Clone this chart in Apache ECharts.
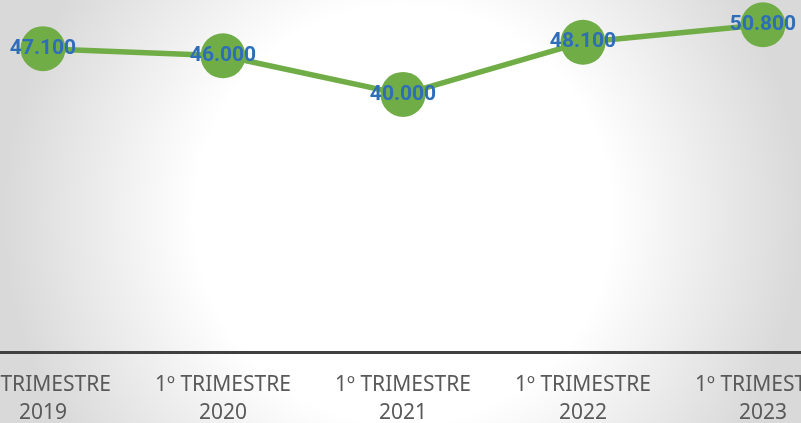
<!DOCTYPE html>
<html><head><meta charset="utf-8">
<script src="https://cdn.jsdelivr.net/npm/echarts@6/dist/echarts.min.js"></script>
<style>html,body{margin:0;padding:0;}#c{width:801px;height:423px;}</style>
</head><body><div id="c"></div>
<script>
const categories = ['1º TRIMESTRE\n2019','1º TRIMESTRE\n2020','1º TRIMESTRE\n2021','1º TRIMESTRE\n2022','1º TRIMESTRE\n2023'];
const values = [47100, 46000, 40000, 48100, 50800];
const fmt = v => String(v).replace(/\B(?=(\d{3})+(?!\d))/g, '.');
const chart = echarts.init(document.getElementById('c'));
chart.setOption({
  animation: false,
  graphic: [{
    type: 'rect', z: -10, silent: true,
    shape: {x: 0, y: 0, width: 801, height: 423},
    style: {fill: new echarts.graphic.RadialGradient(403, 215, 400, [
      {offset: 0, color: '#ffffff'}, {offset: 0.52, color: '#ffffff'}, {offset: 1, color: '#d9d9d9'}], true)}
  }],
  grid: {left: -47, width: 900, top: 1, bottom: 71, containLabel: false, outerBoundsMode: 'none'},
  xAxis: {
    type: 'category', data: categories, boundaryGap: true,
    axisLine: {lineStyle: {color: '#404040', width: 3}},
    axisTick: {show: false},
    axisLabel: {color: '#595959', fontFamily: 'Noto Sans', fontSize: 21, lineHeight: 28, margin: 19, interval: 0}
  },
  yAxis: {type: 'value', min: 0, max: 54500, show: false, splitLine: {show: false}},
  series: [{
    type: 'line', data: values,
    lineStyle: {color: '#70AD47', width: 5.5},
    itemStyle: {color: '#70AD47'},
    symbol: 'circle', symbolSize: 45,
    label: {show: true, position: 'inside', formatter: p => fmt(p.value),
      color: '#2E6EB8', fontFamily: 'Roboto', fontWeight: 'bold', fontSize: 21}
  }]
});
</script></body></html>
